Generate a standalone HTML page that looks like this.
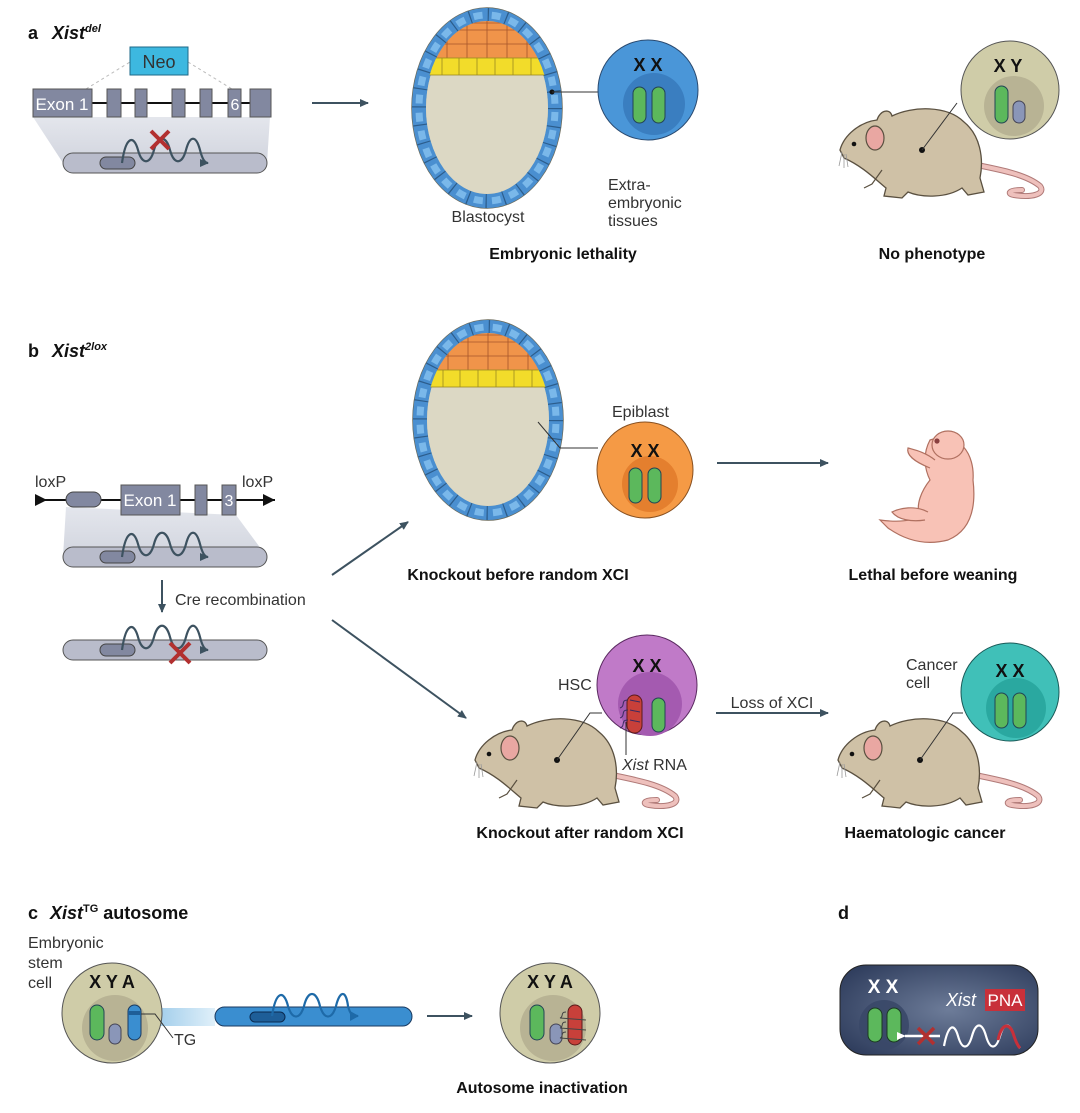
<!DOCTYPE html>
<html><head><meta charset="utf-8"><style>
html,body{margin:0;padding:0;background:#fff}
svg{display:block}
text{font-family:"Liberation Sans",sans-serif;fill:#222}
.l{font-size:16px;fill:#333}
.b{font-size:16px;font-weight:bold;fill:#111}
.h{font-size:18px;font-weight:bold;fill:#111}
</style></head><body>
<svg width="1080" height="1113" viewBox="0 0 1080 1113" xmlns="http://www.w3.org/2000/svg">
<defs>
<marker id="ar" markerWidth="10" markerHeight="10" refX="8" refY="5" orient="auto" markerUnits="userSpaceOnUse"><path d="M0,1 L9,5 L0,9 Z" fill="#3d5260"/></marker>
<marker id="aw" markerWidth="10" markerHeight="10" refX="1" refY="5" orient="auto" markerUnits="userSpaceOnUse"><path d="M9,1 L0,5 L9,9 Z" fill="#fff"/></marker>
<linearGradient id="trap" x1="0" y1="0" x2="0" y2="1"><stop offset="0" stop-color="#dde0e8"/><stop offset="1" stop-color="#c6cad6"/></linearGradient>
<linearGradient id="bluetrap" x1="0" y1="0" x2="1" y2="0"><stop offset="0" stop-color="#6fb2e0"/><stop offset="1" stop-color="#d8ecf8"/></linearGradient>
<radialGradient id="dg" cx="0.55" cy="0.5" r="0.7"><stop offset="0" stop-color="#6d7c99"/><stop offset="1" stop-color="#2c3a5a"/></radialGradient>
<clipPath id="bcin"><ellipse cx="0" cy="0" rx="62" ry="87"/></clipPath>
<g id="blast">
 <ellipse cx="0" cy="0" rx="75" ry="100" fill="#bdb89a" stroke="#6b6a5a" stroke-width="1.5"/>
 <ellipse cx="0" cy="0" rx="68" ry="93" fill="none" stroke="#4a8fd0" stroke-width="14"/>
 <ellipse cx="0" cy="0" rx="68" ry="93" fill="none" stroke="#2c5d8c" stroke-width="14" stroke-dasharray="1.2 17"/>
 <ellipse cx="0" cy="0" rx="68" ry="93" fill="none" stroke="#7ab8ea" stroke-width="7" stroke-dasharray="9 9.2" stroke-dashoffset="-4"/>
 <ellipse cx="0" cy="0" rx="61" ry="86" fill="#dcd8c4"/>
 <g clip-path="url(#bcin)">
  <rect x="-70" y="-100" width="140" height="50" fill="#f0944a"/>
  <path d="M-40,-88 L-40,-50 M-20,-90 L-20,-50 M0,-90 L0,-50 M20,-90 L20,-50 M40,-88 L40,-50 M-60,-78 L60,-78 M-60,-64 L60,-64 M-30,-85 L30,-85" stroke="#a6552a" stroke-width="0.8"/>
  <rect x="-70" y="-50" width="140" height="17" fill="#f2dc2a" stroke="#9a8a20" stroke-width="0.8"/>
  <path d="M-45,-50 V-33 M-28,-50 V-33 M-10,-50 V-33 M8,-50 V-33 M26,-50 V-33 M44,-50 V-33" stroke="#9a8a20" stroke-width="0.8"/>
 </g>
</g>
<g id="mouse">
 <path d="M55,15 C80,20 105,25 118,36 C124,44 110,48 92,45 C85,44 86,40 100,40" fill="none" stroke="#b07a78" stroke-width="6" stroke-linecap="round"/>
 <path d="M55,15 C80,20 105,25 118,36 C124,44 110,48 92,45 C85,44 86,40 100,40" fill="none" stroke="#eec0bc" stroke-width="4" stroke-linecap="round"/>
 <path d="M-82,0 C-78,-15 -62,-28 -45,-30 C-42,-40 -32,-42 -30,-34 C-10,-44 25,-45 42,-28 C58,-15 62,8 58,28 L62,42 L46,45 L40,38 C25,48 0,48 -14,42 L-20,48 L-38,46 L-36,38 C-48,28 -60,16 -78,8 Z" fill="#cfc1a6" stroke="#5a5040" stroke-width="1.3"/>
 <path d="M-40,20 L-50,34 L-58,38" fill="none" stroke="#5a5040" stroke-width="1.2"/>
 <ellipse cx="-47" cy="-12" rx="9" ry="12" fill="#e9a7a2" stroke="#5a5040" stroke-width="1.2"/>
 <circle cx="-68" cy="-6" r="2.3" fill="#111"/>
 <path d="M-80,2 l-3,14 M-78,4 l0,14 M-76,4 l2,13" stroke="#999" stroke-width="0.8"/>
 <circle cx="0" cy="0" r="3" fill="#111"/>
</g>
</defs>

<!-- ===== Panel a ===== -->
<text x="28" y="39" class="h">a</text><text x="52" y="39" class="h" font-style="italic">Xist<tspan font-size="11" dy="-7">del</tspan></text>
<path d="M86,89 L130,62 M188,62 L232,89" stroke="#bbb" stroke-dasharray="3 3" fill="none"/>
<rect x="130" y="47" width="58" height="28" fill="#3db8e0" stroke="#1e6a88"/>
<text x="159" y="68" text-anchor="middle" class="l" style="font-size:18px">Neo</text>
<path d="M33,117 L270,117 L267,163 L63,163 Z" fill="url(#trap)" opacity="0.8"/>
<line x1="92" y1="103" x2="250" y2="103" stroke="#111" stroke-width="2"/>
<rect x="33" y="89" width="59" height="28" fill="#8288a0" stroke="#555"/>
<text x="62" y="110" text-anchor="middle" style="font-size:17px;fill:#fff">Exon 1</text>
<rect x="107" y="89" width="14" height="28" fill="#8288a0" stroke="#555"/>
<rect x="135" y="89" width="12" height="28" fill="#8288a0" stroke="#555"/>
<rect x="172" y="89" width="13" height="28" fill="#8288a0" stroke="#555"/>
<rect x="200" y="89" width="12" height="28" fill="#8288a0" stroke="#555"/>
<rect x="228" y="89" width="13" height="28" fill="#8288a0" stroke="#555"/>
<text x="235" y="110" text-anchor="middle" style="font-size:16px;fill:#fff">6</text>
<rect x="250" y="89" width="21" height="28" fill="#8288a0" stroke="#555"/>
<rect x="63" y="153" width="204" height="20" rx="10" fill="#b9bccb" stroke="#555"/>
<rect x="100" y="157" width="35" height="12" rx="6" fill="#8288a0" stroke="#444"/>
<path d="M122,163 C126,135 134,135 138,150 C142,165 150,165 154,150 C158,135 166,135 170,150 C174,165 182,165 186,150 C190,135 196,135 200,150 C203,162 206,163 208,163" fill="none" stroke="#3d5260" stroke-width="2.2" marker-end="url(#ar)"/>
<path d="M151,131 L169,149 M169,131 L151,149" stroke="#b23030" stroke-width="4"/>
<line x1="312" y1="103" x2="368" y2="103" stroke="#3d5260" stroke-width="2" marker-end="url(#ar)"/>

<use href="#blast" x="487" y="108"/>
<circle cx="552" cy="92" r="2.5" fill="#111"/>
<line x1="552" y1="92" x2="598" y2="92" stroke="#333"/>
<circle cx="648" cy="90" r="50" fill="#4a96d8" stroke="#2a4a70"/>
<circle cx="654" cy="104" r="31" fill="#3a7ec0"/>
<text x="648" y="71" text-anchor="middle" class="h">X X</text>
<rect x="633" y="87" width="13" height="36" rx="6.5" fill="#5cb85c" stroke="#245"/>
<rect x="652" y="87" width="13" height="36" rx="6.5" fill="#5cb85c" stroke="#245"/>
<text x="488" y="222" text-anchor="middle" class="l">Blastocyst</text>
<text x="608" y="190" class="l">Extra-</text><text x="608" y="208" class="l">embryonic</text><text x="608" y="226" class="l">tissues</text>
<text x="563" y="259" text-anchor="middle" class="b">Embryonic lethality</text>

<use href="#mouse" x="922" y="150"/>
<line x1="922" y1="150" x2="957" y2="103" stroke="#333"/>
<circle cx="1010" cy="90" r="49" fill="#cfcca8" stroke="#555"/>
<circle cx="1014" cy="106" r="30" fill="#b8b394"/>
<text x="1008" y="72" text-anchor="middle" class="h">X Y</text>
<rect x="995" y="86" width="13" height="37" rx="6.5" fill="#5cb85c" stroke="#245"/>
<rect x="1013" y="101" width="12" height="22" rx="6" fill="#8a96b8" stroke="#445"/>
<text x="932" y="259" text-anchor="middle" class="b">No phenotype</text>

<!-- ===== Panel b ===== -->
<text x="28" y="357" class="h">b</text><text x="52" y="357" class="h" font-style="italic">Xist<tspan font-size="11" dy="-7">2lox</tspan></text>
<text x="487" y="358" text-anchor="middle" class="l">Blastocyst</text>
<use href="#blast" x="488" y="420"/>
<polyline points="538,422 560,448 598,448" fill="none" stroke="#333"/>
<text x="612" y="417" class="l">Epiblast</text>
<circle cx="645" cy="470" r="48" fill="#f59a45" stroke="#885020"/>
<circle cx="650" cy="484" r="28" fill="#e47f2e"/>
<text x="645" y="457" text-anchor="middle" class="h">X X</text>
<rect x="629" y="468" width="13" height="35" rx="6.5" fill="#5cb85c" stroke="#245"/>
<rect x="648" y="468" width="13" height="35" rx="6.5" fill="#5cb85c" stroke="#245"/>
<line x1="717" y1="463" x2="828" y2="463" stroke="#3d5260" stroke-width="2" marker-end="url(#ar)"/>
<!-- pup -->
<g stroke="#b07060" stroke-width="1.2" fill="#f8c2b6">
 <path d="M930,440 C960,430 975,455 973,480 C976,505 972,530 948,540 C925,546 905,540 888,528 L880,520 C895,522 910,522 920,516 C915,505 922,490 930,480 C925,470 922,455 930,440 Z"/>
 <ellipse cx="948" cy="445" rx="16" ry="14"/>
 <path d="M935,460 C925,452 915,450 908,448 C906,455 915,462 930,468" />
 <path d="M928,512 C915,505 900,508 892,512 C898,520 912,522 925,520"/>
</g>
<circle cx="937" cy="441" r="2.6" fill="#8a4040"/>
<text x="518" y="580" text-anchor="middle" class="b">Knockout before random XCI</text>
<text x="933" y="580" text-anchor="middle" class="b">Lethal before weaning</text>

<line x1="35" y1="500" x2="275" y2="500" stroke="#111" stroke-width="2"/>
<path d="M35,494 L47,500 L35,506 Z M263,494 L275,500 L263,506 Z" fill="#111"/>
<text x="35" y="487" class="l">loxP</text><text x="242" y="487" class="l">loxP</text>
<path d="M66,507 L236,515 L267,557 L63,557 Z" fill="url(#trap)" opacity="0.8"/>
<rect x="66" y="492" width="35" height="15" rx="7.5" fill="#8288a0" stroke="#444"/>
<rect x="121" y="485" width="59" height="30" fill="#8288a0" stroke="#555"/>
<text x="150" y="506" text-anchor="middle" style="font-size:17px;fill:#fff">Exon 1</text>
<rect x="195" y="485" width="12" height="30" fill="#8288a0" stroke="#555"/>
<rect x="222" y="485" width="14" height="30" fill="#8288a0" stroke="#555"/>
<text x="229" y="506" text-anchor="middle" style="font-size:16px;fill:#fff">3</text>
<rect x="63" y="547" width="204" height="20" rx="10" fill="#b9bccb" stroke="#555"/>
<rect x="100" y="551" width="35" height="12" rx="6" fill="#8288a0" stroke="#444"/>
<path d="M122,557 C126,529 134,529 138,544 C142,559 150,559 154,544 C158,529 166,529 170,544 C174,559 182,559 186,544 C190,529 196,529 200,544 C203,556 206,557 208,557" fill="none" stroke="#3d5260" stroke-width="2.2" marker-end="url(#ar)"/>
<line x1="162" y1="580" x2="162" y2="612" stroke="#3d5260" stroke-width="2" marker-end="url(#ar)"/>
<text x="175" y="605" class="l">Cre recombination</text>
<rect x="63" y="640" width="204" height="20" rx="10" fill="#b9bccb" stroke="#555"/>
<rect x="100" y="644" width="35" height="12" rx="6" fill="#8288a0" stroke="#444"/>
<path d="M122,650 C126,622 134,622 138,637 C142,652 150,652 154,637 C158,622 166,622 170,637 C174,652 182,652 186,637 C190,622 196,622 200,637 C203,649 206,650 208,650" fill="none" stroke="#3d5260" stroke-width="2.2" marker-end="url(#ar)"/>
<path d="M170,643 L190,663 M190,643 L170,663" stroke="#b23030" stroke-width="4"/>
<line x1="332" y1="575" x2="408" y2="522" stroke="#3d5260" stroke-width="2" marker-end="url(#ar)"/>
<line x1="332" y1="620" x2="466" y2="718" stroke="#3d5260" stroke-width="2" marker-end="url(#ar)"/>

<use href="#mouse" x="557" y="760"/>
<polyline points="557,760 590,713 602,713" fill="none" stroke="#333"/>
<text x="558" y="690" class="l">HSC</text>
<circle cx="647" cy="685" r="50" fill="#c07ac8" stroke="#5a2a60"/>
<circle cx="650" cy="704" r="32" fill="#a45ab0"/>
<text x="647" y="672" text-anchor="middle" class="h">X X</text>
<rect x="627" y="695" width="15" height="38" rx="7.5" fill="#c8403a" stroke="#5a1a1a"/>
<path d="M628,700 c-8,0 -2,6 -8,8 M628,710 c-8,0 -2,6 -8,8 M628,720 c-8,0 -2,6 -8,8 M630,700 l10,2 M630,710 l10,2 M630,720 l10,2" fill="none" stroke="#3a2a60" stroke-width="1"/>
<rect x="652" y="698" width="13" height="34" rx="6.5" fill="#5cb85c" stroke="#245"/>
<line x1="626" y1="722" x2="626" y2="755" stroke="#333"/>
<text x="622" y="770" class="l"><tspan font-style="italic">Xist</tspan> RNA</text>
<line x1="716" y1="713" x2="828" y2="713" stroke="#3d5260" stroke-width="2" marker-end="url(#ar)"/>
<text x="772" y="708" text-anchor="middle" class="l">Loss of XCI</text>
<text x="580" y="838" text-anchor="middle" class="b">Knockout after random XCI</text>

<use href="#mouse" x="920" y="760"/>
<polyline points="920,760 953,713 963,713" fill="none" stroke="#333"/>
<text x="906" y="670" class="l">Cancer</text><text x="906" y="688" class="l">cell</text>
<circle cx="1010" cy="692" r="49" fill="#40c0b8" stroke="#1a5a58"/>
<circle cx="1016" cy="708" r="30" fill="#2aa8a0"/>
<text x="1010" y="677" text-anchor="middle" class="h">X X</text>
<rect x="995" y="693" width="13" height="35" rx="6.5" fill="#5cb85c" stroke="#245"/>
<rect x="1013" y="693" width="13" height="35" rx="6.5" fill="#5cb85c" stroke="#245"/>
<text x="925" y="838" text-anchor="middle" class="b">Haematologic cancer</text>

<!-- ===== Panel c ===== -->
<text x="28" y="919" class="h">c</text><text x="50" y="919" class="h"><tspan font-style="italic">Xist</tspan><tspan font-size="11" dy="-7">TG</tspan><tspan dy="7"> autosome</tspan></text>
<text x="28" y="948" class="l">Embryonic</text><text x="28" y="968" class="l">stem</text><text x="28" y="988" class="l">cell</text>
<path d="M138,1008 L215,1008 L215,1026 L138,1026 Z" fill="url(#bluetrap)" opacity="0.8"/>
<circle cx="112" cy="1013" r="50" fill="#cfcca8" stroke="#555"/>
<circle cx="115" cy="1028" r="33" fill="#b8b394"/>
<text x="112" y="988" text-anchor="middle" class="h">X Y A</text>
<rect x="90" y="1005" width="14" height="35" rx="7" fill="#5cb85c" stroke="#245"/>
<rect x="109" y="1024" width="12" height="20" rx="6" fill="#8a96b8" stroke="#445"/>
<rect x="128" y="1005" width="13" height="35" rx="6.5" fill="#3a8ed0" stroke="#1a3a60"/>
<rect x="128" y="1011" width="13" height="4" fill="#1e5e98"/>
<polyline points="141,1014 155,1014 173,1038" fill="none" stroke="#333"/>
<text x="174" y="1045" class="l">TG</text>
<rect x="215" y="1007" width="197" height="19" rx="9.5" fill="#3a8ed0" stroke="#1a3a60"/>
<rect x="250" y="1012" width="35" height="10" rx="5" fill="#1e5e98" stroke="#0a2a50"/>
<path d="M272,1016 C276,990 284,990 288,1006 C292,1020 300,1020 304,1006 C308,990 316,990 320,1006 C324,1020 332,1020 336,1006 C340,990 346,990 348,1006 C350,1014 352,1016 358,1016" fill="none" stroke="#1e6aa8" stroke-width="2.2"/>
<path d="M350,1011 L359,1016 L350,1021 Z" fill="#1e6aa8"/>
<line x1="427" y1="1016" x2="472" y2="1016" stroke="#3d5260" stroke-width="2" marker-end="url(#ar)"/>
<circle cx="550" cy="1013" r="50" fill="#cfcca8" stroke="#555"/>
<circle cx="553" cy="1028" r="33" fill="#b8b394"/>
<text x="550" y="988" text-anchor="middle" class="h">X Y A</text>
<rect x="530" y="1005" width="14" height="35" rx="7" fill="#5cb85c" stroke="#245"/>
<rect x="550" y="1024" width="12" height="20" rx="6" fill="#8a96b8" stroke="#445"/>
<rect x="568" y="1005" width="14" height="40" rx="7" fill="#c8403a" stroke="#5a1a1a"/>
<path d="M566,1012 c-6,0 -2,5 -6,6 l26,2 M566,1022 c-6,0 -2,5 -6,6 l26,2 M566,1032 c-6,0 -2,5 -6,6 l26,2" fill="none" stroke="#444" stroke-width="1"/>
<text x="542" y="1093" text-anchor="middle" class="b">Autosome inactivation</text>

<!-- ===== Panel d ===== -->
<text x="838" y="919" class="h">d</text>
<rect x="840" y="965" width="198" height="90" rx="26" fill="url(#dg)" stroke="#222"/>
<text x="883" y="993" text-anchor="middle" style="font-size:19px;font-weight:bold;fill:#fff">X X</text>
<circle cx="884" cy="1025" r="25" fill="#3a4868" opacity="0.9"/>
<rect x="868" y="1008" width="14" height="34" rx="7" fill="#5cb85c" stroke="#1a3a20"/>
<rect x="887" y="1008" width="14" height="34" rx="7" fill="#5cb85c" stroke="#1a3a20"/>
<line x1="940" y1="1036" x2="905" y2="1036" stroke="#fff" stroke-width="2.5" marker-end="url(#aw)"/>
<path d="M918,1028 L934,1044 M934,1028 L918,1044" stroke="#b23030" stroke-width="3.5"/>
<path d="M944,1046 C948,1025 954,1022 958,1036 C962,1050 968,1050 972,1036 C976,1022 982,1022 986,1036 C990,1050 996,1050 1000,1036 C1004,1022 1010,1022 1014,1036 C1016,1042 1018,1046 1020,1048" fill="none" stroke="#fff" stroke-width="2.2"/>
<path d="M998,1040 C1002,1022 1010,1022 1014,1036 C1016,1042 1018,1046 1020,1048" fill="none" stroke="#c8303a" stroke-width="3"/>
<text x="946" y="1006" style="font-size:18px;font-style:italic;fill:#fff">Xist</text>
<rect x="985" y="989" width="40" height="22" fill="#c8303a"/>
<text x="1005" y="1006" text-anchor="middle" style="font-size:17px;fill:#fff">PNA</text>
</svg>
</body></html>
